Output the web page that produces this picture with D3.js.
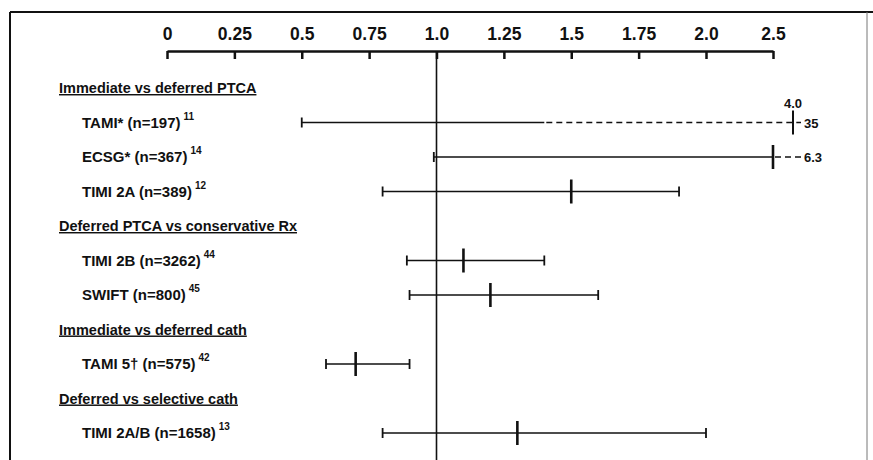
<!DOCTYPE html>
<html>
<head>
<meta charset="utf-8">
<script src="https://cdn.jsdelivr.net/npm/d3@7"></script>
<style>
  html, body { margin: 0; padding: 0; background: #fff; }
  svg { display: block; font-family: "Liberation Sans", Arial, Helvetica, sans-serif; }
</style>
</head>
<body>
<svg id="chart" width="873" height="460"></svg>
<script>
// ---- data ----
const groups = [
  "Immediate vs deferred PTCA",
  "Deferred PTCA vs conservative Rx",
  "Immediate vs deferred cath",
  "Deferred vs selective cath"
];
const studies = [
  "TAMI* (n=197)",
  "ECSG* (n=367)",
  "TIMI 2A (n=389)",
  "TIMI 2B (n=3262)",
  "SWIFT (n=800)",
  "TAMI 5\u2020 (n=575)",
  "TIMI 2A/B (n=1658)"
];
const refs = ["11", "14", "12", "44", "45", "42", "13"];
const studyGroup = [0, 0, 0, 1, 1, 2, 3];
const estimate = [4.0, 2.5, 1.5, 1.1, 1.2, 0.7, 1.3];
const lower = [0.5, 0.99, 0.8, 0.89, 0.9, 0.59, 0.8];
const upper = [35, 6.3, 1.9, 1.4, 1.6, 0.9, 2.0];
const dashFrom = [1.4, 2.5, null, null, null, null, null];
const tickValues = [0, 0.25, 0.5, 0.75, 1.0, 1.25, 1.5, 1.75, 2.0, 2.5];
const tickLabels = ["0", "0.25", "0.5", "0.75", "1.0", "1.25", "1.5", "1.75", "2.0", "2.5"];

// ---- layout ----
const W = 873, H = 460;
const svg = d3.select("#chart");
const axisY = 51;
const axisMax = 2.5;

// broken (polylinear) scale: linear to 2.0, compressed segment to 2.5, then off-scale
const x = d3.scaleLinear().domain([0, 2.0, 2.5, 4.0]).range([167, 706, 773, 793]);
const xAxisScale = d3.scaleLinear().domain([0, 2.0, 2.5]).range([167, 706, 773]);

// rows: header followed by its studies
const items = [];
groups.forEach((g, gi) => {
  items.push({ type: "header", key: "h" + gi, text: g });
  studies.forEach((s, si) => {
    if (studyGroup[si] === gi) items.push({ type: "study", key: "s" + si, i: si });
  });
});
const y = d3.scalePoint().domain(items.map(d => d.key)).range([88, 433]).padding(0);

// frame
svg.append("line").attr("x1", 10).attr("x2", W).attr("y1", 12).attr("y2", 12)
  .attr("stroke", "#111").attr("stroke-width", 2);
svg.append("line").attr("x1", 10).attr("x2", 10).attr("y1", 12).attr("y2", H)
  .attr("stroke", "#111").attr("stroke-width", 2);
svg.append("line").attr("x1", 867).attr("x2", 867).attr("y1", 12).attr("y2", H)
  .attr("stroke", "#777").attr("stroke-width", 1);

// axis
const axis = d3.axisTop(xAxisScale)
  .tickValues(tickValues)
  .tickFormat((d, i) => tickLabels[i])
  .tickSizeInner(-8)
  .tickSizeOuter(0)
  .tickPadding(11);
const gAxis = svg.append("g").attr("transform", `translate(0,${axisY})`).call(axis);
gAxis.select(".domain").attr("stroke", "#111").attr("stroke-width", 2.5);
gAxis.selectAll(".tick line").attr("stroke", "#111").attr("stroke-width", 2.5);
gAxis.selectAll(".tick text")
  .attr("fill", "#111")
  .style("font-size", "17.5px")
  .style("font-weight", "bold")
  .style("font-family", "'Liberation Sans', Arial, sans-serif");

// reference line at 1.0
svg.append("line")
  .attr("x1", x(1.0)).attr("x2", x(1.0))
  .attr("y1", axisY).attr("y2", H)
  .attr("stroke", "#111").attr("stroke-width", 1.6);

// headers
const headers = items.filter(d => d.type === "header");
svg.selectAll("text.header").data(headers).join("text")
  .attr("class", "header")
  .attr("x", 59)
  .attr("y", d => y(d.key) + 5)
  .attr("fill", "#111")
  .style("font-size", "14.5px")
  .style("font-weight", "bold")
  .style("text-decoration", "underline")
  .text(d => d.text);

// study labels
const rows = items.filter(d => d.type === "study");
const lbl = svg.selectAll("text.study").data(rows).join("text")
  .attr("class", "study")
  .attr("x", 82)
  .attr("y", d => y(d.key) + 5)
  .attr("fill", "#111")
  .style("font-size", "15px")
  .style("font-weight", "bold");
lbl.append("tspan").text(d => studies[d.i]);
lbl.append("tspan")
  .attr("dx", 3).attr("dy", -8)
  .style("font-size", "10px")
  .text(d => refs[d.i]);

// CI lines
const tailX = 801;      // end of the truncated (dashed) continuation
const upperLabelX = 804;
const capH = 5, markH = 12;

rows.forEach(d => {
  const i = d.i, yy = y(d.key);
  const truncated = upper[i] > axisMax;
  const solidEnd = truncated ? (dashFrom[i] !== null ? dashFrom[i] : axisMax) : upper[i];
  const g = svg.append("g").attr("stroke", "#111");
  // solid segment
  g.append("line")
    .attr("x1", x(lower[i])).attr("x2", x(solidEnd))
    .attr("y1", yy).attr("y2", yy)
    .attr("stroke-width", 1.6);
  // lower cap
  g.append("line")
    .attr("x1", x(lower[i])).attr("x2", x(lower[i]))
    .attr("y1", yy - capH).attr("y2", yy + capH)
    .attr("stroke-width", 1.8);
  if (truncated) {
    g.append("line")
      .attr("x1", x(solidEnd) + 2).attr("x2", tailX)
      .attr("y1", yy).attr("y2", yy)
      .attr("stroke-width", 1.6)
      .attr("stroke-dasharray", "6,4");
    svg.append("text")
      .attr("x", upperLabelX).attr("y", yy + 5)
      .attr("fill", "#111")
      .style("font-size", "13px").style("font-weight", "bold")
      .text(d3.format(".2~f")(upper[i]));
  } else {
    g.append("line")
      .attr("x1", x(upper[i])).attr("x2", x(upper[i]))
      .attr("y1", yy - capH).attr("y2", yy + capH)
      .attr("stroke-width", 1.8);
  }
  // point estimate marker
  g.append("line")
    .attr("x1", x(estimate[i])).attr("x2", x(estimate[i]))
    .attr("y1", yy - markH).attr("y2", yy + markH)
    .attr("stroke-width", estimate[i] > axisMax ? 2 : 2.6);
  if (estimate[i] > axisMax) {
    svg.append("text")
      .attr("x", x(estimate[i])).attr("y", yy - 15)
      .attr("text-anchor", "middle")
      .attr("fill", "#111")
      .style("font-size", "13px").style("font-weight", "bold")
      .text(d3.format(".1f")(estimate[i]));
  }
});
</script>
</body>
</html>
